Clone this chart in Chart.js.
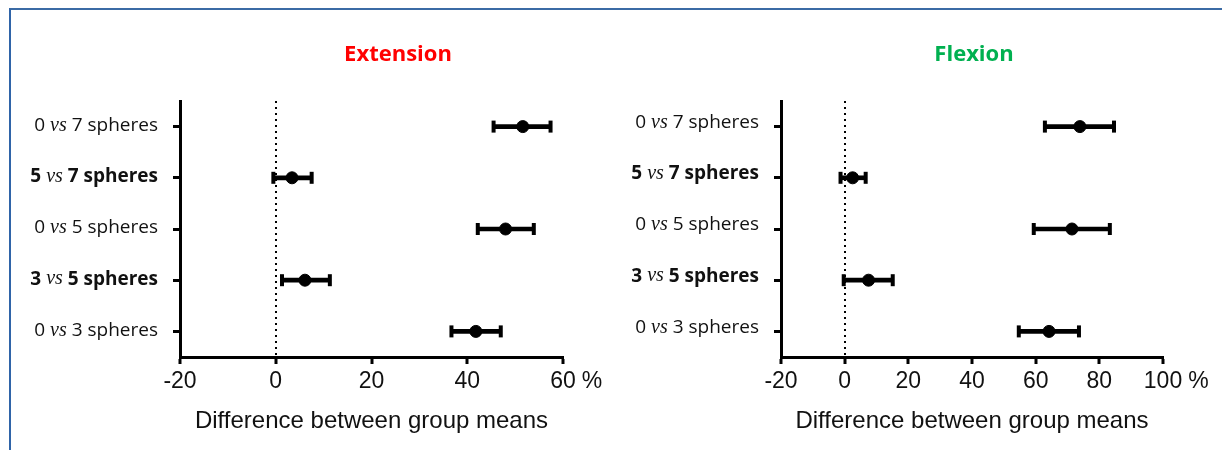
<!DOCTYPE html>
<html>
<head>
<meta charset="utf-8">
<script src="https://cdn.jsdelivr.net/npm/chart.js@4.4.0/dist/chart.umd.min.js"></script>
<style>
  html, body { margin: 0; padding: 0; background: #fff; }
  body { width: 1222px; height: 450px; position: relative; overflow: hidden; }
  .frame { position: absolute; left: 9px; top: 8px; width: 1300px; height: 500px;
           border-top: 2px solid #3b6ba5; border-left: 2px solid #2f64a8; }
  canvas { position: absolute; top: 20px; }
  #extChart { left: 20px; }
  #flxChart { left: 620px; }
</style>
</head>
<body>
<div class="frame"></div>
<canvas id="extChart" width="600" height="425"></canvas>
<canvas id="flxChart" width="597" height="425"></canvas>
<script>
// comparisons, top to bottom
const categories = ['0 vs 7 spheres', '5 vs 7 spheres', '0 vs 5 spheres', '3 vs 5 spheres', '0 vs 3 spheres'];

// Extension: mean difference and 95% CI (%)
const extMean = [51.6, 3.4, 48.0, 6.1, 41.8];
const extLow  = [45.5, -0.5, 42.2, 1.3, 36.7];
const extHigh = [57.4, 7.5, 53.9, 11.3, 47.0];
const extTicks = [-20, 0, 20, 40, 60];

// Flexion: mean difference and 95% CI (%)
const flxMean = [73.9, 2.5, 71.4, 7.5, 64.2];
const flxLow  = [62.9, -1.3, 59.4, -0.3, 54.7];
const flxHigh = [84.6, 6.6, 83.3, 15.1, 73.6];
const flxTicks = [-20, 0, 20, 40, 60, 80, 100];

const unit = '%';
const axisTitle = 'Difference between group means';
const highlighted = ['5 vs 7 spheres', '3 vs 5 spheres'];

const ink = '#111';
const tickFont = { family: '"Liberation Sans", Arial, sans-serif', size: 23 };

// titles, comparison labels and the unit after the last tick
const panelText = {
  id: 'panelText',
  afterDraw(chart, args, opts) {
    const ctx = chart.ctx;
    const yScale = chart.scales.y;
    const xScale = chart.scales.x;
    ctx.save();

    ctx.font = 'bold 22px "Open Sans"';
    ctx.fillStyle = opts.color;
    ctx.textAlign = 'center';
    ctx.textBaseline = 'middle';
    ctx.fillText(opts.title, opts.titleX, opts.titleY);

    ctx.fillStyle = ink;
    ctx.textAlign = 'left';
    categories.forEach((label, i) => {
      const py = yScale.getPixelForTick(i) + opts.labelShift;
      const bold = highlighted.includes(label);
      const mainFont = (bold ? 'bold ' : '') + '19px "Open Sans"';
      const vsFont = 'italic 20px "Liberation Serif"';
      const [a, b] = label.split(' vs ');
      const parts = [[a + ' ', mainFont], ['vs', vsFont], [' ' + b, mainFont]];
      let total = 0;
      parts.forEach(p => { ctx.font = p[1]; p.push(ctx.measureText(p[0]).width); total += p[2]; });
      let px = chart.chartArea.left - 22 - total;
      parts.forEach(p => { ctx.font = p[1]; ctx.fillText(p[0], px, py); px += p[2]; });
    });

    const items = xScale.getLabelItems();
    const last = items[items.length - 1];
    ctx.font = tickFont.size + 'px ' + tickFont.family;
    ctx.textAlign = 'left';
    ctx.textBaseline = last.options.textBaseline || 'middle';
    const w = ctx.measureText(String(last.label)).width;
    ctx.fillText(unit, last.options.translation[0] + w / 2 + 6, last.options.translation[1] + last.textOffset);
    ctx.restore();
  }
};

function makePanel(id, title, color, titleX, labelShift, ticks, means, lows, highs, yWidth, padRight) {
  const pts = vals => vals.map((v, i) => ({ x: v, y: categories[i] }));
  new Chart(document.getElementById(id), {
    type: 'bar',
    data: {
      labels: categories,
      datasets: [
        { type: 'line', data: pts(means), showLine: false, order: 0, clip: false,
          pointRadius: 6, pointHoverRadius: 6, pointBackgroundColor: '#000', pointBorderColor: '#000' },
        { type: 'line', data: pts(lows), showLine: false, order: 1, clip: false,
          pointStyle: 'line', rotation: 90, pointRadius: 6, pointHoverRadius: 6,
          pointBorderWidth: 4, pointBorderColor: '#000' },
        { type: 'line', data: pts(highs), showLine: false, order: 1, clip: false,
          pointStyle: 'line', rotation: 90, pointRadius: 6, pointHoverRadius: 6,
          pointBorderWidth: 4, pointBorderColor: '#000' },
        { type: 'bar', data: lows.map((v, i) => [v, highs[i]]), order: 2,
          backgroundColor: '#000', barThickness: 4 }
      ]
    },
    options: {
      indexAxis: 'y',
      responsive: false,
      animation: false,
      layout: { padding: { top: 81, right: padRight, left: 0, bottom: 0 } },
      plugins: {
        legend: { display: false },
        tooltip: { enabled: false },
        panelText: { title: title, color: color, titleX: titleX, titleY: 35, labelShift: labelShift }
      },
      scales: {
        x: {
          type: 'linear', position: 'bottom',
          min: ticks[0], max: ticks[ticks.length - 1],
          ticks: { stepSize: ticks[1] - ticks[0], color: ink, font: tickFont, padding: 4, maxRotation: 0 },
          grid: {
            color: c => (c.tick && c.tick.value === 0 ? '#000' : 'rgba(0,0,0,0)'),
            lineWidth: 2, tickColor: '#000', tickWidth: 3, tickLength: 7
          },
          border: { color: '#000', width: 3, dash: [2, 4] },
          title: { display: true, text: axisTitle, color: ink,
                   font: { family: tickFont.family, size: 24 }, padding: { top: 4, bottom: 9 } },
          afterFit: s => { s.height = 88; }
        },
        y: {
          type: 'category', position: 'left', offset: true,
          ticks: { display: false },
          grid: { offset: false, drawOnChartArea: false, tickColor: '#000', tickWidth: 3, tickLength: 7 },
          border: { color: '#000', width: 3 },
          afterFit: s => { s.width = yWidth; }
        }
      }
    },
    plugins: [panelText]
  });
}

makePanel('extChart', 'Extension', '#ff0000', 378, -1, extTicks, extMean, extLow, extHigh, 160, 57);
makePanel('flxChart', 'Flexion', '#00b050', 354, -4, flxTicks, flxMean, flxLow, flxHigh, 161, 54);
</script>
</body>
</html>
